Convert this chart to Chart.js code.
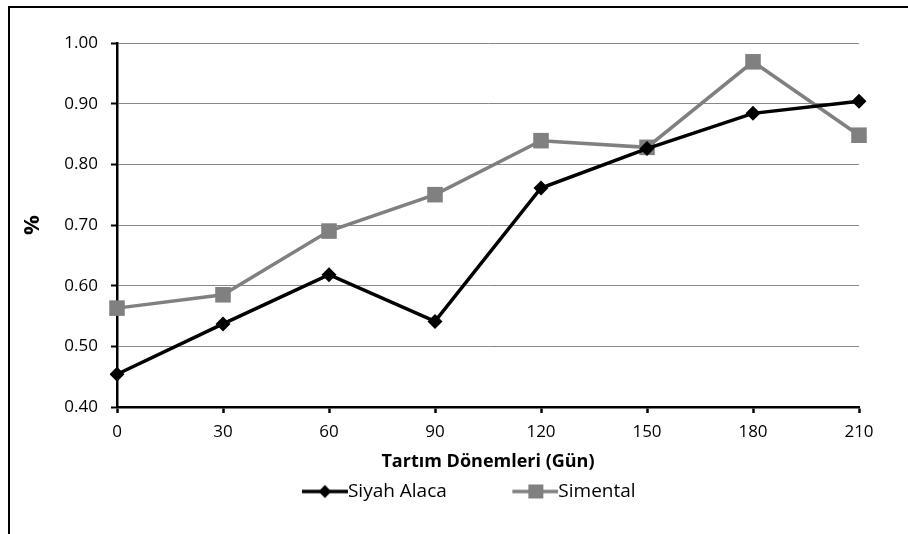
<!DOCTYPE html>
<html>
<head>
<meta charset="utf-8">
<script src="https://cdn.jsdelivr.net/npm/chart.js@4/dist/chart.umd.min.js"></script>
<style>
  html, body { margin: 0; padding: 0; background: #fff; }
  #wrap { position: relative; width: 908px; height: 534px; overflow: hidden; }
  #frame { position: absolute; left: 8px; top: 6px; width: 960px; height: 600px; border: 2px solid #000; box-sizing: border-box; }
  #chart { position: absolute; left: 0; top: 0; }
</style>
</head>
<body>
<div id="wrap">
  <div id="frame"></div>
  <canvas id="chart" width="908" height="534"></canvas>
</div>
<script>
// ===== données =====
const days = ["0", "30", "60", "90", "120", "150", "180", "210"];
const siyahAlaca = [0.454, 0.537, 0.618, 0.541, 0.761, 0.826, 0.884, 0.904];
const simental   = [0.563, 0.585, 0.690, 0.750, 0.839, 0.828, 0.969, 0.848];
const yTicks = [0.40, 0.50, 0.60, 0.70, 0.80, 0.90, 1.00];

const FONT = "'Open Sans', 'DejaVu Sans', sans-serif";
const GREY = "#808080";

// légende : trait + marqueur, calé à droite du canvas (la partie gauche reste vide)
const LEG_BOX = 65;
function legendIcon(color, shape) {
    const c = document.createElement("canvas");
    c.width = 84; c.height = 16;
    const g = c.getContext("2d");
    g.strokeStyle = color;
    g.lineWidth = 3.5;
    g.beginPath();
    g.moveTo(38, 8); g.lineTo(84, 8);
    g.stroke();
    g.fillStyle = color;
    g.beginPath();
    if (shape === "diamond") {
        g.moveTo(61, 1.5); g.lineTo(67.5, 8); g.lineTo(61, 14.5); g.lineTo(54.5, 8);
    } else {
        g.rect(54, 1, 15, 14);
    }
    g.fill();
    return c;
}

const chart = new Chart(document.getElementById("chart"), {
    type: "line",
    data: {
        labels: days,
        datasets: [
            {
                label: "Siyah Alaca",
                data: siyahAlaca,
                borderColor: "#000",
                backgroundColor: "#000",
                borderWidth: 3.5,
                pointStyle: "rectRot",
                pointRadius: 7.5,
                pointBorderWidth: 0,
                tension: 0,
                legendIcon: legendIcon("#000", "diamond")
            },
            {
                label: "Simental",
                data: simental,
                borderColor: GREY,
                backgroundColor: GREY,
                borderWidth: 3.5,
                pointStyle: "rect",
                pointRadius: 11,
                pointBorderWidth: 0,
                tension: 0,
                legendIcon: legendIcon(GREY, "square")
            }
        ]
    },
    options: {
        responsive: false,
        animation: false,
        layout: { padding: { top: 43, right: 49, bottom: 23, left: 50 } },
        plugins: {
            tooltip: { enabled: false },
            legend: {
                position: "bottom",
                labels: {
                    usePointStyle: true,
                    pointStyleWidth: LEG_BOX,
                    padding: 37,
                    color: "#000",
                    font: { family: FONT, size: 19 },
                    generateLabels: (ch) => ch.data.datasets.map((ds, i) => ({
                        text: ds.label,
                        pointStyle: ds.legendIcon,
                        fillStyle: ds.borderColor,
                        strokeStyle: ds.borderColor,
                        lineWidth: 0,
                        fontColor: "#000",
                        datasetIndex: i,
                        hidden: false
                    }))
                }
            }
        },
        scales: {
            x: {
                offset: false,
                afterFit: (s) => { s.height = 38; },
                border: { color: "#000", width: 2.5 },
                grid: { drawOnChartArea: false, tickLength: 6, tickColor: "#000", tickWidth: 2.5 },
                ticks: { color: "#000", padding: 9, maxRotation: 0, font: { family: FONT, size: 17 } },
                title: {
                    display: true,
                    text: "Tartım Dönemleri (Gün)",
                    color: "#000",
                    padding: { top: 0, bottom: -28 },
                    font: { family: FONT, size: 18, weight: "bold" }
                }
            },
            y: {
                min: 0.4,
                max: 1.0,
                afterBuildTicks: (s) => { s.ticks = yTicks.map(v => ({ value: v })); },
                afterFit: (s) => { s.width = 67; },
                border: { color: "#000", width: 2.5 },
                grid: { color: "#888", lineWidth: 1, tickLength: 6, tickColor: "#000", tickWidth: 2 },
                ticks: {
                    color: "#000",
                    padding: 13,
                    font: { family: FONT, size: 17 },
                    callback: (v) => Number(v).toFixed(2)
                },
                title: {
                    display: true,
                    text: "%",
                    color: "#000",
                    padding: { top: -30, bottom: 0 },
                    font: { family: FONT, size: 22, weight: "bold" }
                }
            }
        }
    }
});
</script>
</body>
</html>
